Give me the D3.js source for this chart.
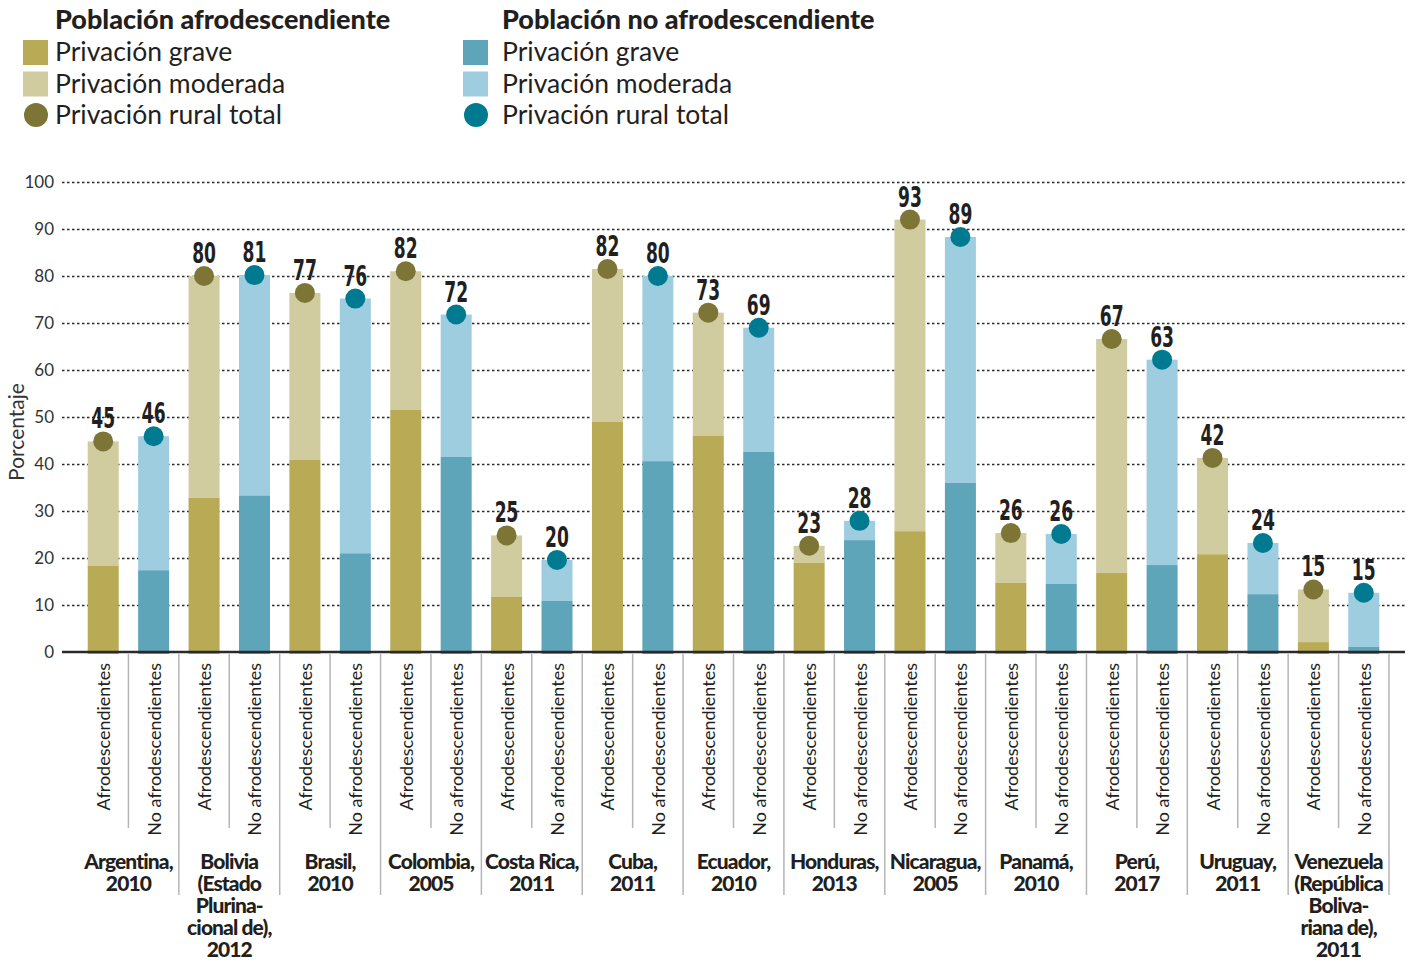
<!DOCTYPE html>
<html>
<head>
<meta charset="utf-8">
<script src="https://cdn.jsdelivr.net/npm/d3@7"></script>
<style>
  body { margin: 0; background: #fff; }
  svg { font-family: Lato, "Open Sans", sans-serif; }
</style>
</head>
<body>
<svg width="1411" height="964"></svg>
<script>
// countries (each entry is the list of label lines)
var countries = [
  ["Argentina,", "2010"],
  ["Bolivia", "(Estado", "Plurina-", "cional de),", "2012"],
  ["Brasil,", "2010"],
  ["Colombia,", "2005"],
  ["Costa Rica,", "2011"],
  ["Cuba,", "2011"],
  ["Ecuador,", "2010"],
  ["Honduras,", "2013"],
  ["Nicaragua,", "2005"],
  ["Panamá,", "2010"],
  ["Perú,", "2017"],
  ["Uruguay,", "2011"],
  ["Venezuela", "(República", "Boliva-", "riana de),", "2011"]
];
var groups = ["Afrodescendientes", "No afrodescendientes"];

// afrodescendant population
var afroGrave = [18.3, 32.8, 40.9, 51.5, 11.7, 49, 46, 19, 25.7, 14.7, 16.8, 20.8, 2.1];
var afroTotal = [44.8, 80, 76.4, 81, 24.8, 81.5, 72.2, 22.6, 92, 25.3, 66.6, 41.3, 13.3];
var afroLabel = [45, 80, 77, 82, 25, 82, 73, 23, 93, 26, 67, 42, 15];
// non afrodescendant population
var noGrave = [17.4, 33.3, 21, 41.5, 10.9, 40.6, 42.6, 23.8, 36, 14.5, 18.5, 12.3, 1.1];
var noTotal = [45.9, 80.2, 75.2, 71.8, 19.6, 80, 69, 27.9, 88.3, 25.1, 62.2, 23.2, 12.6];
var noLabel = [46, 81, 76, 72, 20, 80, 69, 28, 89, 26, 63, 24, 15];

var yTicks = [0, 10, 20, 30, 40, 50, 60, 70, 80, 90, 100];

var colors = {
  afro: { grave: "#b9ab55", moderada: "#d1cba0", dot: "#7d7535" },
  no:   { grave: "#5fa5ba", moderada: "#9ecde0", dot: "#007a91" }
};

var svg = d3.select("svg");

var plotLeft = 62, plotRight = 1405;
var y = d3.scaleLinear().domain([0, 100]).range([652, 182]);
var xCountry = d3.scaleBand().domain(d3.range(countries.length)).range([78, 1389]);
var xSub = d3.scaleBand().domain(["afro", "no"]).range([0, xCountry.bandwidth()])
  .paddingInner(0.385).paddingOuter(0.1925);

// grid lines + y tick labels
var yAxis = svg.append("g")
  .attr("transform", "translate(" + plotLeft + ",0)")
  .call(d3.axisLeft(y).tickValues(yTicks).tickSize(-(plotRight - plotLeft)).tickPadding(8));
yAxis.select(".domain").remove();
yAxis.selectAll(".tick line")
  .attr("stroke", "#2a2a2a")
  .attr("stroke-width", 1.4)
  .attr("stroke-dasharray", "2.5,2.5")
  .attr("opacity", function(d) { return d === 0 ? 0 : 1; });
yAxis.selectAll(".tick text")
  .attr("fill", "#333")
  .style("font-size", "17px")
  .style("font-family", "Lato");

svg.append("text")
  .attr("transform", "translate(24,432) rotate(-90)")
  .attr("text-anchor", "middle")
  .attr("fill", "#333")
  .style("font-size", "21px")
  .text("Porcentaje");

// build rows for bars
var rows = [];
countries.forEach(function(c, i) {
  rows.push({ i: i, key: "afro", grave: afroGrave[i], total: afroTotal[i], label: afroLabel[i] });
  rows.push({ i: i, key: "no", grave: noGrave[i], total: noTotal[i], label: noLabel[i] });
});

var bar = svg.selectAll(".bar")
  .data(rows)
  .enter().append("g")
  .attr("class", "bar")
  .attr("transform", function(d) {
    return "translate(" + (xCountry(d.i) + xSub(d.key)) + ",0)";
  });

bar.append("rect")
  .attr("y", function(d) { return y(d.total); })
  .attr("width", xSub.bandwidth())
  .attr("height", function(d) { return y(d.grave) - y(d.total); })
  .attr("fill", function(d) { return colors[d.key].moderada; });

bar.append("rect")
  .attr("y", function(d) { return y(d.grave); })
  .attr("width", xSub.bandwidth())
  .attr("height", function(d) { return y(0) - y(d.grave) + 2; })
  .attr("fill", function(d) { return colors[d.key].grave; });

// axis line
svg.append("line")
  .attr("x1", plotLeft).attr("x2", plotRight)
  .attr("y1", y(0)).attr("y2", y(0))
  .attr("stroke", "#2a2a2a")
  .attr("stroke-width", 2.5);

bar.append("circle")
  .attr("cx", xSub.bandwidth() / 2)
  .attr("cy", function(d) { return y(d.total); })
  .attr("r", 10)
  .attr("fill", function(d) { return colors[d.key].dot; });

bar.append("text")
  .attr("transform", function(d) {
    return "translate(" + (xSub.bandwidth() / 2) + "," + (y(d.total) - 13) + ") scale(0.68,1)";
  })
  .attr("text-anchor", "middle")
  .attr("fill", "#231f20")
  .style("font-family", "'Liberation Sans Narrow', 'DejaVu Sans Condensed', sans-serif")
  .style("font-weight", "bold")
  .style("font-size", "28px")
  .text(function(d) { return d.label; });

// separators under the axis
countries.forEach(function(c, i) {
  var x0 = xCountry(i);
  var xm = x0 + xCountry.bandwidth() / 2;
  svg.append("line")
    .attr("x1", xm).attr("x2", xm).attr("y1", 654).attr("y2", 828)
    .attr("stroke", "#b5b5b5").attr("stroke-width", 1.5);
  svg.append("line")
    .attr("x1", x0 + xCountry.bandwidth()).attr("x2", x0 + xCountry.bandwidth())
    .attr("y1", 654).attr("y2", 895)
    .attr("stroke", "#b5b5b5").attr("stroke-width", 1.5);
});

// rotated group labels
bar.append("text")
  .attr("transform", function(d) {
    return "translate(" + (xSub.bandwidth() / 2 + 7) + ",663) rotate(-90)";
  })
  .attr("text-anchor", "end")
  .attr("fill", "#231f20")
  .style("font-size", "18px")
  .text(function(d) { return d.key === "afro" ? groups[0] : groups[1]; });

// country labels
countries.forEach(function(lines, i) {
  var t = svg.append("text")
    .attr("text-anchor", "middle")
    .attr("fill", "#231f20")
    .style("font-size", "21px")
    .style("font-weight", "900")
    .style("letter-spacing", "-0.9px");
  lines.forEach(function(l, k) {
    t.append("tspan")
      .attr("x", xCountry(i) + xCountry.bandwidth() / 2)
      .attr("y", 869 + k * 22)
      .text(l);
  });
});

// legend
var legendItems = ["Privación grave", "Privación moderada", "Privación rural total"];
var legendCols = [
  { key: "afro", title: "Población afrodescendiente", x: 23, tx: 32 },
  { key: "no", title: "Población no afrodescendiente", x: 463, tx: 39 }
];
legendCols.forEach(function(col) {
  var g = svg.append("g").attr("transform", "translate(" + col.x + ",0)");
  g.append("text")
    .attr("x", col.tx).attr("y", 29)
    .attr("fill", "#231f20")
    .style("font-size", "27px")
    .style("font-weight", "900")
    .text(col.title);
  legendItems.forEach(function(name, k) {
    var cy = 52 + k * 31.5;
    if (k < 2) {
      g.append("rect")
        .attr("x", 0).attr("y", cy - 12)
        .attr("width", 25).attr("height", 25)
        .attr("fill", k === 0 ? colors[col.key].grave : colors[col.key].moderada);
    } else {
      g.append("circle")
        .attr("cx", 13).attr("cy", cy)
        .attr("r", 12)
        .attr("fill", colors[col.key].dot);
    }
    g.append("text")
      .attr("x", col.tx).attr("y", cy + 9)
      .attr("fill", "#231f20")
      .style("font-size", "26.5px")
      .text(name);
  });
});
</script>
</body>
</html>
